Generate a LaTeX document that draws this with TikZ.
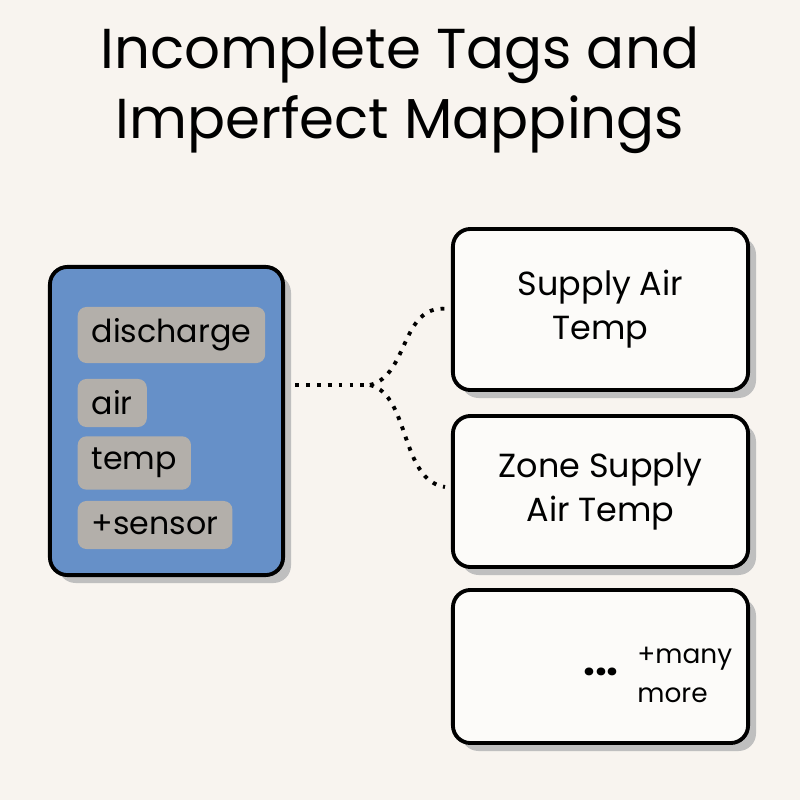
\documentclass[tikz,border=0pt]{standalone}
\usepackage{fontspec}
\setmainfont{Poppins}
\usetikzlibrary{arrows.meta}
\definecolor{bgcol}{HTML}{F8F4EF}
\definecolor{bluecol}{HTML}{6690C8}
\definecolor{tagcol}{HTML}{B3AFAA}
\tikzset{
  tagbox/.style={fill=tagcol,rounded corners=2.5pt,anchor=west,inner xsep=4pt,minimum height=0.48cm,font=\fontsize{9}{11}\selectfont},
  mapbox/.style={draw,line width=1.1pt,fill=white!60!bgcol,rounded corners=5pt,minimum width=2.95cm,align=center,font=\fontsize{9.5}{12.5}\selectfont}
}
\begin{document}
\begin{tikzpicture}[x=0.01cm,y=-0.01cm]
\fill[bgcol] (0,0) rectangle (800,800);
\useasboundingbox (0,0) rectangle (800,800);

% title
\node[align=center,font=\fontsize{16}{20}\selectfont] (Title) at (400,90) {Incomplete Tags and\\Imperfect Mappings};

% tags
\fill[black!25,rounded corners=5pt] (58,275) rectangle (291,583);
\node[draw,line width=1.1pt,fill=bluecol,rounded corners=5pt,minimum width=2.33cm,minimum height=3.08cm] (Tags) at (166.5,421) {};
\node[tagbox,minimum width=1.8cm] (TagA) at (77,335) {discharge};
\node[tagbox,minimum width=0.68cm] (TagB) at (77,403) {air};
\node[tagbox,minimum width=1.07cm] (TagC) at (77,463) {temp};
\node[tagbox,minimum width=1.53cm] (TagD) at (77,525) {+sensor};

% mappings
\foreach \cy/\h in {309.5/1.61,491.5/1.51,666.5/1.53}
  \fill[black!25,rounded corners=5pt] (608.5,\cy) ++(-147.5,-\h*50+8) rectangle ++(295,\h*100);
\node[mapbox,minimum height=1.61cm] (MapA) at (600.5,309.5) {Supply Air\\Temp};
\node[mapbox,minimum height=1.51cm] (MapB) at (600.5,491.5) {Zone Supply\\Air Temp};
\node[mapbox,minimum height=1.53cm] (MapC) at (600.5,666.5) {};
\node[font=\fontsize{12}{12}\selectfont\bfseries] (Dots) at (601,672) {...};
\node[align=left,font=\fontsize{7.5}{11}\selectfont,anchor=west] (More) at (625,675) {+many\\more};

% connector
\coordinate (Split) at (370,385);
\draw[line width=1.1pt,dotted] (Tags.east) ++(10,-36) coordinate (Start) -- (Split);
\draw[line width=1.1pt,dotted] (Split) .. controls (410,375) and (400,300) .. (MapA.west);
\draw[line width=1.1pt,dotted] (Split) .. controls (410,395) and (400,480) .. (445,487);
\end{tikzpicture}
\end{document}
